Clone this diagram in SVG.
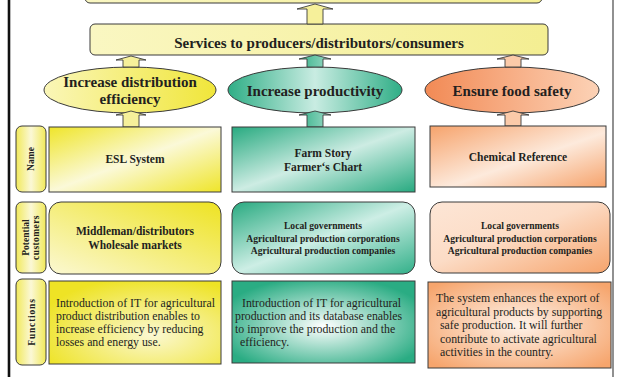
<svg xmlns="http://www.w3.org/2000/svg" width="619" height="377" viewBox="0 0 619 377">
<style>
.t{font-family:"Liberation Serif","Times New Roman",serif;fill:#231f20}
.b{font-weight:bold}
.bx{stroke:#3a3a3a;stroke-width:1}
.ar{stroke:#3a3a3a;stroke-width:0.9}
.lbl{font-family:"Liberation Serif","Times New Roman",serif;font-weight:bold;font-size:9.5px;fill:#231f20;text-anchor:middle}
.fn{font-family:"Liberation Serif","Times New Roman",serif;font-size:11.8px;fill:#231f20}
</style>
<defs>
<linearGradient id="gTop" x1="0" y1="0" x2="1" y2="0"><stop offset="0" stop-color="#faf7c2"/><stop offset="1" stop-color="#f4ee92"/></linearGradient>
<linearGradient id="gLbl" x1="0" y1="0" x2="1" y2="0"><stop offset="0" stop-color="#f1e95a"/><stop offset="0.5" stop-color="#fbf8d6"/><stop offset="1" stop-color="#f1e95a"/></linearGradient>
<linearGradient id="gElY" x1="0" y1="0" x2="1" y2="0"><stop offset="0" stop-color="#faf6b8"/><stop offset="1" stop-color="#f0e63a"/></linearGradient>
<linearGradient id="gElG" x1="0" y1="0" x2="1" y2="0"><stop offset="0" stop-color="#2fae86"/><stop offset="0.5" stop-color="#c9ece2"/><stop offset="1" stop-color="#2fae86"/></linearGradient>
<linearGradient id="gElO" x1="0" y1="0" x2="1" y2="0"><stop offset="0" stop-color="#f28a55"/><stop offset="1" stop-color="#fcd2b6"/></linearGradient>
<linearGradient id="gNY" x1="0" y1="0" x2="1" y2="1"><stop offset="0" stop-color="#efe52a"/><stop offset="0.5" stop-color="#fbf9d8"/><stop offset="1" stop-color="#efe52a"/></linearGradient>
<linearGradient id="gNG" x1="0" y1="0" x2="1" y2="1"><stop offset="0" stop-color="#28aa80"/><stop offset="0.5" stop-color="#cdece3"/><stop offset="1" stop-color="#28aa80"/></linearGradient>
<linearGradient id="gNO" x1="0" y1="0" x2="1" y2="1"><stop offset="0" stop-color="#f6a36c"/><stop offset="0.55" stop-color="#fdeadc"/><stop offset="1" stop-color="#f6a36c"/></linearGradient>
<linearGradient id="gCY" x1="1" y1="0" x2="0" y2="1"><stop offset="0" stop-color="#eee322"/><stop offset="1" stop-color="#fbf8d2"/></linearGradient>
<linearGradient id="gCG" x1="0" y1="0" x2="1" y2="1"><stop offset="0" stop-color="#28aa80"/><stop offset="0.5" stop-color="#cdeee5"/><stop offset="1" stop-color="#32b089"/></linearGradient>
<linearGradient id="gCO" x1="0" y1="0" x2="1" y2="1"><stop offset="0" stop-color="#fde6d6"/><stop offset="0.45" stop-color="#fcdcc6"/><stop offset="1" stop-color="#f6a46c"/></linearGradient>
<radialGradient id="gFY" cx="0.6" cy="0.65" r="0.7"><stop offset="0" stop-color="#fbf8d2"/><stop offset="1" stop-color="#eee325"/></radialGradient>
<radialGradient id="gFG" cx="0.5" cy="0.55" r="0.6"><stop offset="0" stop-color="#ffffff"/><stop offset="1" stop-color="#2aac83"/></radialGradient>
<radialGradient id="gFO" cx="0.5" cy="0.5" r="0.65"><stop offset="0" stop-color="#fef3ea"/><stop offset="1" stop-color="#f6a56d"/></radialGradient>
<linearGradient id="gArG" x1="0" y1="0" x2="1" y2="0"><stop offset="0" stop-color="#37b28b"/><stop offset="1" stop-color="#9ddac6"/></linearGradient>
</defs>

<!-- frame -->
<line x1="9" y1="0" x2="9" y2="377" stroke="#111" stroke-width="2.6"/>
<line x1="613" y1="0" x2="613" y2="377" stroke="#555" stroke-width="1.3"/>

<g id="top-box"><rect x="85" y="-10" width="457" height="13" rx="5" fill="url(#gTop)" class="bx"/></g>

<g id="services">
<rect x="90" y="24" width="458" height="31" rx="5" fill="url(#gTop)" class="bx"/>
<text x="319" y="48" class="t b" font-size="15" text-anchor="middle">Services to producers/distributors/consumers</text>
</g>

<g id="goal-distribution">
<ellipse cx="130" cy="90" rx="86" ry="23" fill="url(#gElY)" class="bx"/>
<text x="130" y="87" class="t b" font-size="15" text-anchor="middle">Increase distribution</text>
<text x="130" y="104" class="t b" font-size="15" text-anchor="middle">efficiency</text>
</g>
<g id="goal-productivity">
<ellipse cx="315" cy="90" rx="87" ry="23" fill="url(#gElG)" class="bx"/>
<text x="315" y="96" class="t b" font-size="15" text-anchor="middle">Increase productivity</text>
</g>
<g id="goal-safety">
<ellipse cx="512" cy="90" rx="87" ry="23" fill="url(#gElO)" class="bx"/>
<text x="512" y="96" class="t b" font-size="15" text-anchor="middle">Ensure food safety</text>
</g>

<g id="connectors">
<path class="ar" fill="#f6f09a" d="M307,24 V9 H297 L315,4 L333,9 H323 V24 Z"/>
<path class="ar" fill="#f6f09a" d="M123,67 V60 H116 L131,56 L146,60 H139 V67 Z"/>
<path class="ar" fill="url(#gArG)" d="M307,67 V59 H299 L315,55 L331,59 H323 V67 Z"/>
<path class="ar" fill="#fbcaa9" d="M505,67 V59 H497 L513,55 L529,59 H521 V67 Z"/>
<path class="ar" fill="#f6f09a" d="M123,127 V115 H116 L131,111 L146,115 H139 V127 Z"/>
<path class="ar" fill="url(#gArG)" d="M307,127 V115 H299 L315,111 L331,115 H323 V127 Z"/>
<path class="ar" fill="#fbcaa9" d="M505,126 V115 H497 L513,111 L529,115 H521 V126 Z"/>
</g>

<g id="label-name">
<rect x="16" y="126" width="30" height="66" rx="6" fill="url(#gLbl)" class="bx"/>
<text class="lbl" transform="translate(34,159) rotate(-90)">Name</text>
</g>
<g id="label-customers">
<rect x="16" y="202" width="30" height="71" rx="6" fill="url(#gLbl)" class="bx"/>
<text class="lbl" transform="translate(28.5,237.5) rotate(-90)">Potential</text>
<text class="lbl" letter-spacing="0.4" transform="translate(38.5,237.5) rotate(-90)">customers</text>
</g>
<g id="label-functions">
<rect x="16" y="279" width="30" height="86" rx="6" fill="url(#gLbl)" class="bx"/>
<text class="lbl" letter-spacing="0.8" transform="translate(34.5,322) rotate(-90)">Functions</text>
</g>

<g id="name-esl">
<rect x="49" y="127" width="172" height="65" fill="url(#gNY)" class="bx"/>
<text x="135" y="163" class="t b" font-size="11.5" text-anchor="middle">ESL System</text>
</g>
<g id="name-farm">
<rect x="232" y="127" width="183" height="65" fill="url(#gNG)" class="bx"/>
<text x="323" y="157" class="t b" font-size="11.5" text-anchor="middle">Farm Story</text>
<text x="323" y="171" class="t b" font-size="11.5" text-anchor="middle">Farmer‘s Chart</text>
</g>
<g id="name-chemical">
<rect x="430" y="126" width="176" height="61" fill="url(#gNO)" class="bx"/>
<text x="518" y="161" class="t b" font-size="11.5" text-anchor="middle">Chemical Reference</text>
</g>

<g id="cust-distribution">
<rect x="49" y="202" width="172" height="72" rx="12" fill="url(#gCY)" class="bx"/>
<text x="135" y="235" class="t b" font-size="11.5" text-anchor="middle">Middleman/distributors</text>
<text x="135" y="249" class="t b" font-size="11.5" text-anchor="middle">Wholesale markets</text>
</g>
<g id="cust-productivity">
<rect x="232" y="202" width="183" height="72" rx="12" fill="url(#gCG)" class="bx"/>
<text x="323" y="229" class="t b" font-size="9.6" text-anchor="middle">Local governments</text>
<text x="323" y="241.5" class="t b" font-size="9.6" text-anchor="middle">Agricultural production corporations</text>
<text x="323" y="254" class="t b" font-size="9.6" text-anchor="middle">Agricultural production companies</text>
</g>
<g id="cust-safety">
<rect x="430" y="202" width="180" height="71" rx="12" fill="url(#gCO)" class="bx"/>
<text x="520" y="229" class="t b" font-size="9.6" text-anchor="middle">Local governments</text>
<text x="520" y="241.5" class="t b" font-size="9.6" text-anchor="middle">Agricultural production corporations</text>
<text x="520" y="254" class="t b" font-size="9.6" text-anchor="middle">Agricultural production companies</text>
</g>

<g id="func-distribution">
<rect x="49" y="281" width="172" height="83" fill="url(#gFY)" class="bx"/>
<text class="fn" x="56" y="307">Introduction of IT for agricultural</text>
<text class="fn" x="56" y="320">product distribution enables to</text>
<text class="fn" x="56" y="333">increase efficiency by reducing</text>
<text class="fn" x="56" y="346">losses and energy use.</text>
</g>
<g id="func-productivity">
<rect x="232" y="281" width="183" height="82" fill="url(#gFG)" class="bx"/>
<text class="fn" x="242" y="307">Introduction of IT for agricultural</text>
<text class="fn" x="235" y="320">production and its database enables</text>
<text class="fn" x="235" y="333">to improve the production and the</text>
<text class="fn" x="240" y="346">efficiency.</text>
</g>
<g id="func-safety">
<rect x="428" y="282" width="183" height="86" fill="url(#gFO)" class="bx"/>
<text class="fn" x="436" y="302">The system enhances the export of</text>
<text class="fn" x="436" y="315.5">agricultural products by supporting</text>
<text class="fn" x="440" y="329">safe production. It will further</text>
<text class="fn" x="440" y="342.5">contribute to activate agricultural</text>
<text class="fn" x="440" y="356">activities in the country.</text>
</g>
</svg>
